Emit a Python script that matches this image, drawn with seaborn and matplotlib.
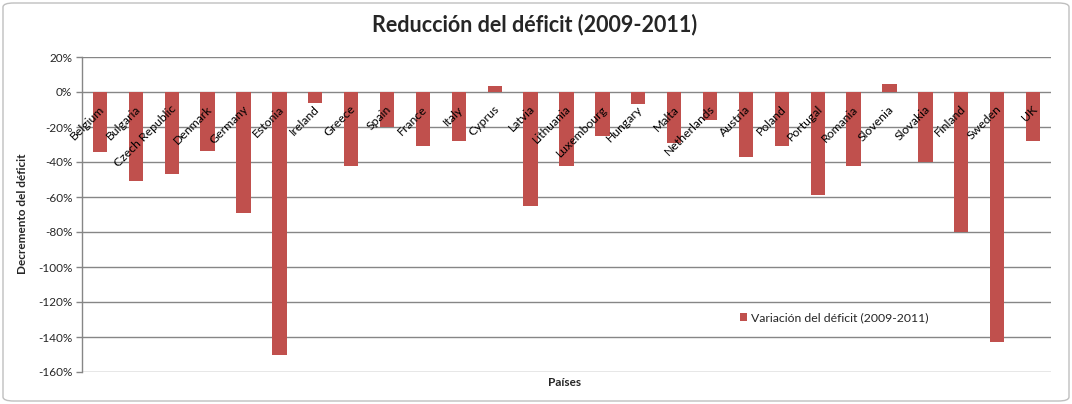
import matplotlib
matplotlib.use("Agg")
import matplotlib.pyplot as plt
import seaborn as sns
import pandas as pd
from matplotlib.patches import FancyBboxPatch
from matplotlib.ticker import FuncFormatter

countries = ["Belgium", "Bulgaria", "Czech Republic", "Denmark", "Germany", "Estonia",
             "Ireland", "Greece", "Spain", "France", "Italy", "Cyprus", "Latvia",
             "Lithuania", "Luxembourg", "Hungary", "Malta", "Netherlands", "Austria",
             "Poland", "Portugal", "Romania", "Slovenia", "Slovakia", "Finland",
             "Sweden", "UK"]
variation = [-34, -51, -47, -33.5, -69, -150, -6, -42, -20, -31, -28, 3.5, -65,
             -42, -25, -7, -29, -16, -37, -31, -59, -42, 4.5, -40, -80, -143, -28]
series_name = "Variación del déficit (2009-2011)"
title = "Reducción del déficit (2009-2011)"
ylabel = "Decremento del déficit"
xlabel = "Países"
yticks = list(range(-160, 21, 20))

sns.set_theme(style="white")
plt.rcParams['font.family'] = ['Lato', 'DejaVu Sans']

df = pd.DataFrame({"country": countries, "value": variation})

fig = plt.figure(figsize=(10.72, 4.04), dpi=100)
ax = fig.add_axes([82/1072, 1-372/404, (1051-82)/1072, (372-57)/404])

sns.barplot(data=df, x="country", y="value", color="#C0504D", width=0.4,
            saturation=1, ax=ax, label=series_name, zorder=3, linewidth=0, edgecolor="none")

ax.set_ylim(-160, 20)
ax.set_xlim(-0.5, len(countries)-0.5)
ax.set_yticks(yticks)
ax.yaxis.set_major_formatter(FuncFormatter(lambda v, p: f"{int(v)}%"))
ax.grid(axis="y", color="#868686", linewidth=1, zorder=0)
ax.tick_params(axis="y", labelsize=8.5, length=4, width=1, color="#868686", left=True, pad=3)
for s in ["top", "right", "bottom"]:
    ax.spines[s].set_visible(False)
ax.spines["left"].set_color("#868686")
ax.spines["left"].set_linewidth(1)

ax.set_xticks([])
ax.set_xlabel("")
ax.set_ylabel("")
for i, c in enumerate(countries):
    ax.annotate(c, xy=(i, 0), xytext=(2, -11), textcoords="offset points",
                rotation=45, rotation_mode="anchor", ha="right", va="center",
                fontsize=8.8, color="#000000", zorder=4)

fig.text(535/1072, 1-25/404, title, ha="center", va="center", fontsize=15.5, fontweight="bold")
fig.text(23/1072, 1-214/404, ylabel, ha="center", va="center", rotation=90,
         fontsize=8.5, fontweight="bold")
fig.text(565/1072, 1-382/404, xlabel, ha="center", va="center", fontsize=8.5, fontweight="bold")

leg = ax.legend(loc="center left", bbox_to_anchor=(734/1072, 1-318/404),
                bbox_transform=fig.transFigure, frameon=False, fontsize=8.8,
                handlelength=0.6, handleheight=0.6, handletextpad=0.3, borderpad=0)

border = FancyBboxPatch((3/1072, 3/404), 1-6/1072, 1-6/404, boxstyle="round,pad=0,rounding_size=0.01",
                        transform=fig.transFigure, fill=False, edgecolor="#BFBFBF", linewidth=1)
fig.patches.append(border)

fig.savefig("out.png", dpi=100)
